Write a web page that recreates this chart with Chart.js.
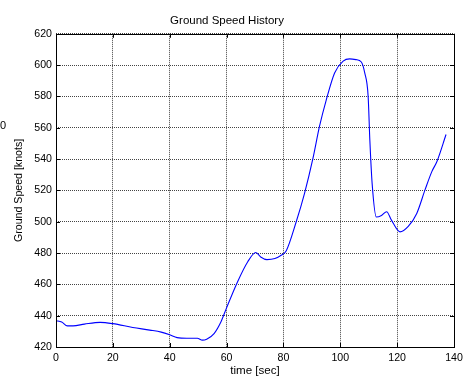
<!DOCTYPE html>
<html>
<head>
<meta charset="utf-8">
<script src="https://cdn.jsdelivr.net/npm/chart.js@4/dist/chart.umd.min.js"></script>
<style>
  html, body { margin: 0; padding: 0; background: #fff; }
  #wrap { width: 468px; height: 379px; position: relative; }
</style>
</head>
<body>
<div id="wrap"><canvas id="speed" width="468" height="379"></canvas></div>
<script>
// time [sec] and ground speed [knots]
var timeSec = [0, 2, 4, 6, 10, 15.5, 20, 27, 33, 37, 40, 42.6, 46, 49.7, 51.5, 53, 55.6, 58, 60,
    63.8, 67.4, 70.3, 72, 74.2, 77, 79.2, 81, 84.5, 87.4, 90.4, 92.7, 95.1, 98, 101, 103.3,
    105.5, 107.4, 108.6, 109.8, 110.4, 111.2, 112.7, 114.5, 116.3, 118, 121, 123.9, 126.9,
    129.8, 132.2, 134, 137.2];
var groundSpeed = [436.8, 436, 433.5, 433.5, 434.6, 435.7, 434.9, 432.5, 430.8, 429.5, 427.8, 426,
    425.6, 425.6, 424.4, 425, 428.6, 436, 445, 461.4, 474.3, 480.3, 477.5, 475.8, 476.5, 478.6,
    481.5, 500, 518, 540.6, 561, 578, 595, 602.6, 604, 603.5, 602, 595, 580, 552, 524.5, 503,
    504, 506.4, 501, 493.5, 497, 505.3, 520.3, 532, 538.5, 555.7];
var xTicks = [0, 20, 40, 60, 80, 100, 120, 140];
var yTicks = [420, 440, 460, 480, 500, 520, 540, 560, 580, 600, 620];

var points = timeSec.map(function(t, i) { return { x: t, y: groundSpeed[i] }; });
var fontFam = "'Liberation Sans', Arial, sans-serif";

// MATLAB-style box with inward tick marks, plus the clipped label at the left edge
var boxPlugin = {
    id: 'box',
    afterDraw: function(chart) {
        var ctx = chart.ctx, a = chart.chartArea;
        var xs = chart.scales.x, ys = chart.scales.y;
        ctx.save();
        ctx.strokeStyle = '#000';
        ctx.lineWidth = 1;
        ctx.beginPath();
        xTicks.forEach(function(v) {
            var px = Math.round(xs.getPixelForValue(v)) + 0.5;
            ctx.moveTo(px, a.bottom); ctx.lineTo(px, a.bottom - 4);
            ctx.moveTo(px, a.top); ctx.lineTo(px, a.top + 4);
        });
        yTicks.forEach(function(v) {
            var py = Math.round(ys.getPixelForValue(v)) + 0.5;
            ctx.moveTo(a.left, py); ctx.lineTo(a.left + 4, py);
            ctx.moveTo(a.right, py); ctx.lineTo(a.right - 4, py);
        });
        ctx.stroke();
        ctx.strokeRect(Math.round(a.left) + 0.5, Math.round(a.top) + 0.5,
            Math.round(a.right - a.left), Math.round(a.bottom - a.top));
        ctx.fillStyle = '#000';
        ctx.font = '11px ' + fontFam;
        ctx.textAlign = 'right';
        ctx.textBaseline = 'middle';
        ctx.fillText('0', 6, 126);
        ctx.restore();
    }
};

new Chart(document.getElementById('speed'), {
    type: 'line',
    data: {
        datasets: [{
            label: 'Ground Speed',
            data: points,
            borderColor: '#0000ff',
            borderWidth: 1.1,
            pointRadius: 0,
            fill: false,
            cubicInterpolationMode: 'monotone'
        }]
    },
    options: {
        responsive: false,
        animation: false,
        layout: { padding: { left: 0, right: 14, top: 0, bottom: 0 } },
        plugins: {
            legend: { display: false },
            tooltip: { enabled: false },
            title: {
                display: true,
                text: 'Ground Speed History',
                color: '#000',
                font: { family: fontFam, size: 11.5, weight: 'normal', lineHeight: 1.2 },
                padding: { top: 14, bottom: 6 }
            }
        },
        scales: {
            x: {
                type: 'linear',
                min: 0,
                max: 140,
                afterFit: function(s) { s.height = 32; },
                afterBuildTicks: function(s) { s.ticks = xTicks.map(function(v) { return { value: v }; }); },
                border: { display: false, dash: [1, 1] },
                grid: { color: '#444', lineWidth: 1, drawTicks: false },
                ticks: { color: '#000', padding: 5, maxRotation: 0, font: { family: fontFam, size: 10.6 } },
                title: {
                    display: true,
                    text: 'time [sec]',
                    color: '#000',
                    font: { family: fontFam, size: 11.6, lineHeight: 1.2 },
                    padding: { top: 0, bottom: 1 }
                }
            },
            y: {
                min: 420,
                max: 620,
                afterFit: function(s) { s.width = 56; },
                afterBuildTicks: function(s) { s.ticks = yTicks.map(function(v) { return { value: v }; }); },
                border: { display: false, dash: [1, 1] },
                grid: { color: '#444', lineWidth: 1, drawTicks: false },
                ticks: { color: '#000', padding: 4, font: { family: fontFam, size: 10.6 } },
                title: {
                    display: true,
                    text: 'Ground Speed [knots]',
                    color: '#000',
                    font: { family: fontFam, size: 10.6, lineHeight: 1.2 },
                    padding: { top: 13, bottom: 0 }
                }
            }
        }
    },
    plugins: [boxPlugin]
});
</script>
</body>
</html>
